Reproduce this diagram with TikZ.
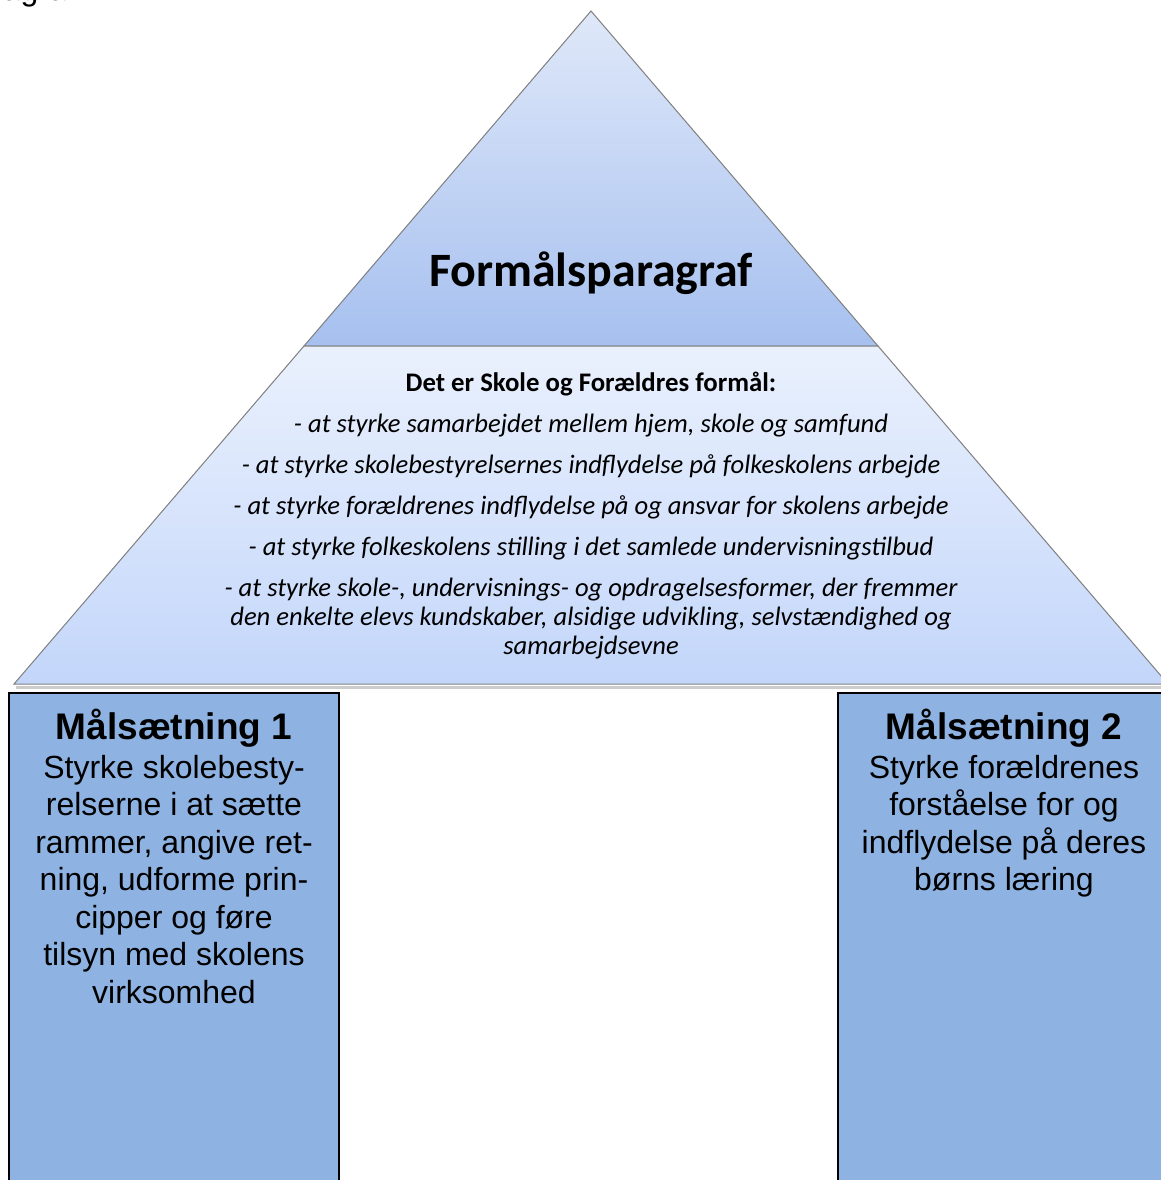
\documentclass[tikz,border=0pt]{standalone}
\usepackage{fontspec}
\setmainfont{Liberation Sans}
\newfontfamily\calibri{Carlito}
\usetikzlibrary{calc}
\definecolor{pyrtop}{HTML}{DFE8F9}
\definecolor{pyrmid}{HTML}{A6C0EF}
\definecolor{pyrlow}{HTML}{EAF1FD}
\definecolor{pyrbase}{HTML}{C3D6FA}
\definecolor{pyredge}{HTML}{7F7F7F}
\definecolor{goalfill}{HTML}{8EB3E2}
\tikzset{
  goalhead/.style={anchor=base, inner sep=0, font=\bfseries\fontsize{37}{40}\selectfont},
  goaltext/.style={anchor=north, inner sep=0, align=center, font=\fontsize{32}{37.5}\selectfont},
  aimline/.style={anchor=base, inner sep=0, align=center, font=\calibri\itshape\fontsize{26.6}{29}\selectfont}
}

\begin{document}
\begin{tikzpicture}[x=1pt,y=-1pt]
			%%%%% START %%%%%
			\useasboundingbox (0,0) rectangle (1160,1180);
			
			\node[anchor=base east, inner sep=0, font=\fontsize{32}{37.5}\selectfont] (stray) at (76,1) {ragraf};
			
			% shadow under the base
			\draw[black!20, line width=3pt] (16,687) -- (1168,687);
			
			% top of the pyramid
			\shade[top color=pyrtop, bottom color=pyrmid] (591,11) -- (878,346) -- (304,346) -- cycle;
			\draw[pyredge, line width=1pt] (591,11) -- (878,346) -- (304,346) -- cycle;
			
			% lower band
			\shade[top color=pyrlow, bottom color=pyrbase] (304,346) -- (878,346) -- (1168,684) -- (14,684) -- cycle;
			\draw[pyredge, line width=1pt] (304,346) -- (878,346) -- (1168,684) -- (14,684) -- cycle;
			
			\node[anchor=base, inner sep=0, font=\calibri\bfseries\fontsize{47.9}{52}\selectfont] (title) at (591,286) {Formålsparagraf};
			
			\node[anchor=base, inner sep=0, font=\calibri\bfseries\fontsize{26.8}{29}\selectfont] (aimhead) at (591,391) {Det er Skole og Forældres formål:};
			\node[aimline] (aim1) at (591,432) {- at styrke samarbejdet mellem hjem, skole og samfund};
			\node[aimline] (aim2) at (591,473) {- at styrke skolebestyrelsernes indflydelse på folkeskolens arbejde};
			\node[aimline] (aim3) at (591,514) {- at styrke forældrenes indflydelse på og ansvar for skolens arbejde};
			\node[aimline] (aim4) at (591,555) {- at styrke folkeskolens stilling i det samlede undervisningstilbud};
			\node[aimline] (aim5) at (591,596) {- at styrke skole-, undervisnings- og opdragelsesformer, der fremmer};
			\node[aimline] (aim6) at (591,625) {den enkelte elevs kundskaber, alsidige udvikling, selvstændighed og};
			\node[aimline] (aim7) at (591,654) {samarbejdsevne};
			
			% the two goals
			\draw[fill=goalfill, line width=1.5pt] (9,693) rectangle (339,1190);
			\draw[fill=goalfill, line width=1.5pt] (838,693) rectangle (1170,1190);
			
			\node[goalhead] (goal1) at (174,739) {Målsætning 1};
			\node[goaltext] (goal1txt) at (174,755) {Styrke skolebesty-\\relserne i at sætte\\rammer, angive ret-\\ning, udforme prin-\\cipper og føre\\tilsyn med skolens\\virksomhed};
			
			\node[goalhead] (goal2) at (1004,739) {Målsætning 2};
			\node[goaltext] (goal2txt) at (1004,755) {Styrke forældrenes\\forståelse for og\\indflydelse på deres\\børns læring};
			%%%%% END %%%%%
\end{tikzpicture}
\end{document}
